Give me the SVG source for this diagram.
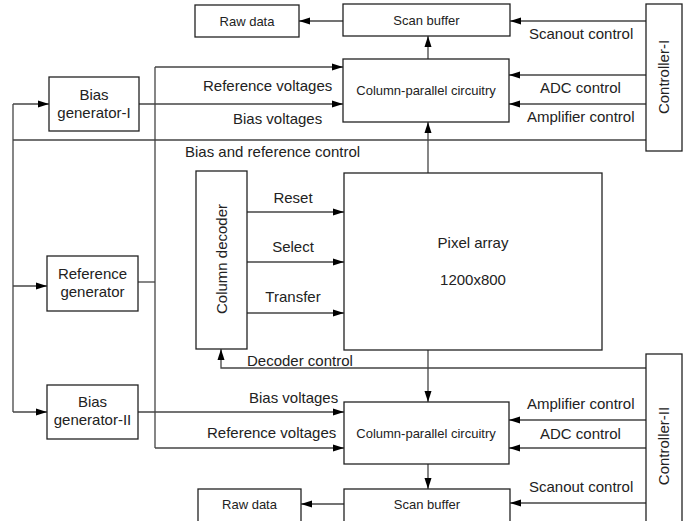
<svg xmlns="http://www.w3.org/2000/svg" width="693" height="521" viewBox="0 0 693 521">
<defs>
<marker id="ah" markerWidth="11" markerHeight="8" refX="11" refY="4" orient="auto" markerUnits="userSpaceOnUse">
<path d="M0,0.5 L11,4 L0,7.5 Z" fill="#000"/>
</marker>
<style>
.box{fill:#fff;stroke:#222;stroke-width:1.3}
.t{font-family:"Liberation Sans",Arial,sans-serif;font-size:15px;fill:#222;text-anchor:middle}
.s{font-family:"Liberation Sans",Arial,sans-serif;font-size:13px;fill:#222;text-anchor:middle}
.c{fill:none;stroke:#444;stroke-width:1.3}
.a{marker-end:url(#ah)}
.l{font-family:"Liberation Sans",Arial,sans-serif;font-size:15px;fill:#222}
</style>
</defs>
<rect width="693" height="521" fill="#fff"/>

<g id="connectors">
<path class="c a" d="M343,21 H299"/>
<path class="c a" d="M646,21 H510"/>
<path class="c a" d="M646,75 H509"/>
<path class="c a" d="M646,104 H509"/>
<path class="c" d="M646,140 H13"/>
<path class="c" d="M13,104 V412"/>
<path class="c a" d="M13,104 H49"/>
<path class="c a" d="M13,286 H47"/>
<path class="c a" d="M13,412 H47"/>
<path class="c a" d="M428,59 V36"/>
<path class="c a" d="M428,173 V122"/>
<path class="c a" d="M139,104 H343"/>
<path class="c" d="M138,282 H155"/>
<path class="c" d="M155,67 V448"/>
<path class="c a" d="M155,67 H343"/>
<path class="c a" d="M155,448 H344"/>
<path class="c a" d="M247,212 H344"/>
<path class="c a" d="M247,262 H344"/>
<path class="c a" d="M247,313 H344"/>
<path class="c a" d="M646,368 H221 V349"/>
<path class="c a" d="M428,350 V402"/>
<path class="c a" d="M138,412 H344"/>
<path class="c a" d="M646,420 H509"/>
<path class="c a" d="M646,448 H509"/>
<path class="c a" d="M646,503 H510"/>
<path class="c a" d="M428,464 V489"/>
<path class="c a" d="M344,504 H301"/>
</g>

<g id="labels">
<text class="l" x="529" y="39">Scanout control</text>
<text class="l" x="540" y="93">ADC control</text>
<text class="l" x="527" y="122">Amplifier control</text>
<text class="l" x="203" y="91">Reference voltages</text>
<text class="l" x="233" y="124">Bias voltages</text>
<text class="l" x="185" y="157">Bias and reference control</text>
<text class="t" x="293" y="203">Reset</text>
<text class="t" x="293" y="252">Select</text>
<text class="t" x="293" y="302">Transfer</text>
<text class="l" x="247" y="366">Decoder control</text>
<text class="l" x="249" y="403">Bias voltages</text>
<text class="l" x="207" y="438">Reference voltages</text>
<text class="l" x="527" y="409">Amplifier control</text>
<text class="l" x="540" y="439">ADC control</text>
<text class="l" x="529" y="492">Scanout control</text>
</g>

<g id="raw-data-top"><rect class="box" x="195" y="5" width="104" height="32"/><text class="s" x="247" y="25.5">Raw data</text></g>
<g id="scan-buffer-top"><rect class="box" x="343" y="4" width="167" height="32"/><text class="s" x="426.5" y="24.5">Scan buffer</text></g>
<g id="controller-1"><rect class="box" x="646" y="4" width="36" height="147"/><text class="t" transform="translate(669,77) rotate(-90)">Controller-I</text></g>
<g id="colpar-top"><rect class="box" x="343" y="59" width="166" height="63"/><text class="s" x="426" y="95">Column-parallel circuitry</text></g>
<g id="bias-gen-1"><rect class="box" x="49" y="77" width="90" height="54"/><text class="t" x="94" y="100">Bias</text><text class="t" x="94" y="118">generator-I</text></g>
<g id="ref-gen"><rect class="box" x="47" y="256" width="91" height="55"/><text class="t" x="92.5" y="279">Reference</text><text class="t" x="92.5" y="297">generator</text></g>
<g id="bias-gen-2"><rect class="box" x="47" y="385" width="91" height="54"/><text class="t" x="92.5" y="407">Bias</text><text class="t" x="92.5" y="425">generator-II</text></g>
<g id="column-decoder"><rect class="box" x="196" y="171" width="51" height="178"/><text class="t" transform="translate(227,259) rotate(-90)">Column decoder</text></g>
<g id="pixel-array"><rect class="box" x="344" y="173" width="258" height="177"/><text class="t" x="473" y="248">Pixel array</text><text class="t" x="473" y="285">1200x800</text></g>
<g id="colpar-bottom"><rect class="box" x="344" y="402" width="165" height="62"/><text class="s" x="426" y="438">Column-parallel circuitry</text></g>
<g id="scan-buffer-bottom"><rect class="box" x="344" y="489" width="166" height="40"/><text class="s" x="427" y="509">Scan buffer</text></g>
<g id="raw-data-bottom"><rect class="box" x="198" y="489" width="103" height="40"/><text class="s" x="249.5" y="509">Raw data</text></g>
<g id="controller-2"><rect class="box" x="646" y="354" width="36" height="175"/><text class="t" transform="translate(669,446) rotate(-90)">Controller-II</text></g>
</svg>
